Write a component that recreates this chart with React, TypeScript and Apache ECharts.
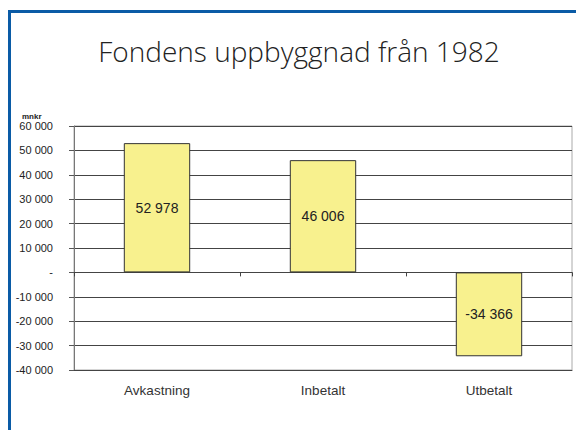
import React, { useEffect, useRef } from "react";
import * as echarts from "echarts";

const categories = ["Avkastning", "Inbetalt", "Utbetalt"];
const values = [52978, 46006, -34366];
const titleText = "Fondens uppbyggnad från 1982";
const unitText = "mnkr";

function fmt(v: number): string {
  if (v === 0) return "-";
  const s = Math.abs(v).toString().replace(/\B(?=(\d{3})+(?!\d))/g, " ");
  return (v < 0 ? "-" : "") + s;
}

export default function App() {
  const ref = useRef<HTMLDivElement>(null);
  useEffect(() => {
    if (!ref.current) return;
    const chart = echarts.init(ref.current, null, { renderer: "svg" });
    chart.setOption({
      animation: false,
      backgroundColor: "#ffffff",
      title: {
        text: titleText,
        left: 294,
        textAlign: "center",
        top: 32,
        textStyle: {
          fontFamily: "Open Sans",
          fontWeight: 300,
          fontSize: 28,
          color: "#222",
        },
      },
      graphic: [
        { type: "rect", shape: { x: 8, y: 10, width: 568, height: 3 }, style: { fill: "#0a5ba6" } },
        { type: "rect", shape: { x: 8, y: 10, width: 3, height: 420 }, style: { fill: "#0a5ba6" } },
        {
          type: "text",
          x: 22,
          y: 112,
          style: { text: unitText, font: "bold 8px Arial", fill: "#222" },
        },
      ],
      grid: {
        left: 74,
        right: 4,
        top: 126,
        bottom: 60,
        show: true,
        borderColor: "#aaa",
        borderWidth: 1,
      },
      xAxis: [
        {
          type: "category",
          data: categories,
          position: "bottom",
          axisLine: { onZero: false, lineStyle: { color: "#444" } },
          axisTick: { show: false },
          axisLabel: { fontFamily: "Arial", fontSize: 13.5, color: "#333", margin: 13 },
        },
        {
          type: "category",
          data: categories,
          position: "bottom",
          axisLine: { show: true, onZero: true, lineStyle: { color: "#444" } },
          axisTick: { show: true, length: 4, lineStyle: { color: "#444" } },
          axisLabel: { show: false },
        },
      ],
      yAxis: {
        type: "value",
        min: -40000,
        max: 60000,
        interval: 10000,
        axisLine: { show: true, lineStyle: { color: "#777" } },
        axisTick: { show: true, length: 5, lineStyle: { color: "#555" } },
        axisLabel: {
          fontFamily: "Arial",
          fontSize: 11,
          color: "#222",
          margin: 21,
          formatter: (v: number) => fmt(v),
        },
        splitLine: { show: true, lineStyle: { color: "#444", width: 1 } },
      },
      series: [
        {
          type: "bar",
          data: values,
          barWidth: "40%",
          itemStyle: { color: "#f8f18e", borderColor: "#333", borderWidth: 1 },
          label: {
            show: true,
            position: "inside",
            fontFamily: "Arial",
            fontSize: 14,
            color: "#222",
            formatter: (p: any) => fmt(p.value),
          },
        },
      ],
    });
    return () => chart.dispose();
  }, []);
  return (
    <div
      ref={ref}
      style={{ position: "fixed", left: 0, top: 0, width: 576, height: 430 }}
    />
  );
}
